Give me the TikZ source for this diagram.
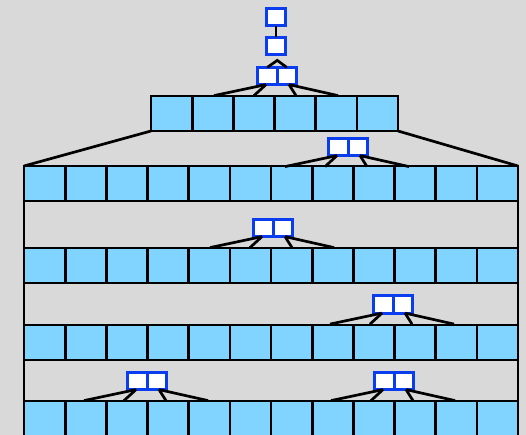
\documentclass[tikz,border=0pt]{standalone}
\usepackage{xcolor}
\usetikzlibrary{positioning, calc}
\definecolor{bggray}{HTML}{D9D9D9}
\definecolor{cellblue}{HTML}{80D4FF}
\definecolor{keyblue}{HTML}{0A3CF0}

\begin{document}
\begin{tikzpicture}[x=1pt, y=-1pt,
    cell/.style={draw, line width=2.7pt, fill=cellblue, minimum width=41.17pt, minimum height=35pt,
        inner sep=0pt, outer sep=0pt, anchor=north west},
    key/.style={draw=keyblue, line width=3pt, fill=white, minimum width=19.5pt, minimum height=17.2pt,
        inner sep=0pt, outer sep=0pt},
    link/.style={line width=2.7pt}]
    \fill[bggray] (0,0) rectangle (526,435);
    \useasboundingbox (0,0) rectangle (526,435);
    \clip (0,0) rectangle (526,435);
    % top leaf row
    \foreach \i in {1,...,6}
        \node[cell] (t\i) at ({151+41.17*(\i-1)},96) {};
    % wide rows
    \foreach \r/\y in {a/166, b/248, c/325, d/401}
        \foreach \i in {1,...,12}
            \node[cell] (\r\i) at ({24+41.17*(\i-1)},\y) {};
    % sides
    \draw[link] (t1.south west) -- (a1.north west);
    \draw[link] (t6.south east) -- (a12.north east);
    \foreach \u/\v in {a/b, b/c, c/d} {
        \draw[link] (\u1.south west) -- (\v1.north west);
        \draw[link] (\u12.south east) -- (\v12.north east);
    }
    % key pairs
    \foreach \p/\dx/\yc in {k0/277/76, k1/348/147, k2/273/228, k3/393/304.5, k4/147/381, k5/394/381} {
        \node[key, anchor=east] (\p l) at (\dx,\yc) {};
        \node[key, anchor=west] (\p r) at (\dx,\yc) {};
        \draw[link] (\p l.south east) ++(-11,0) -- ++(-52,11);
        \draw[link] (\p l.south east) ++(-11,0) -- ++(-12,11);
        \draw[link] (\p r.south west) ++(12,0) -- ++(7,11);
        \draw[link] (\p r.south west) ++(12,0) -- ++(49,11);
    }
    % single keys
    \node[key] (s1) at (276,17) {};
    \node[key] (s2) at (276,46) {};
    \draw[link] (s1) -- (s2);
    \draw[link] (k0l.north) -- ++(10,-7) -- (k0r.north);
\end{tikzpicture}
\end{document}
